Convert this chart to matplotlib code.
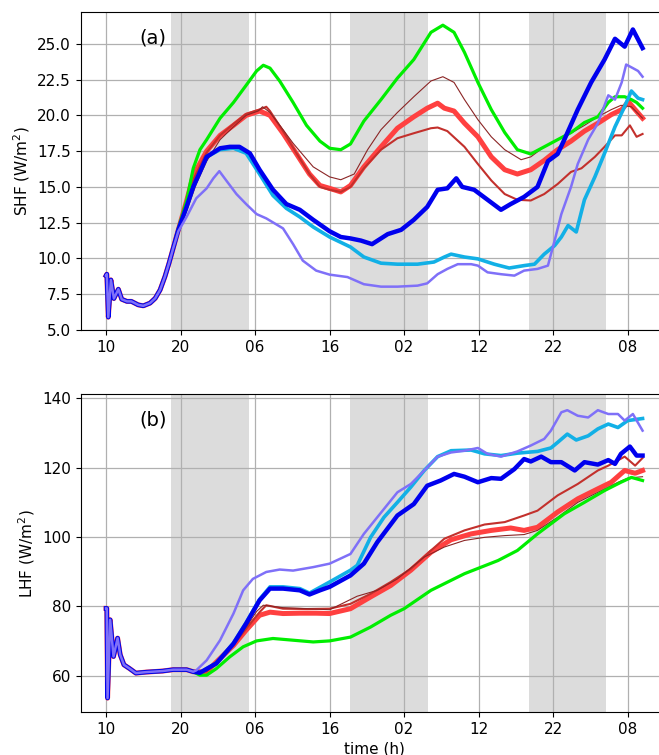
import numpy as np
import matplotlib
matplotlib.use('Agg')
import matplotlib.pyplot as plt

matplotlib.rc('font', **{'size': 11})

# time axis: hours since 10:00 on the first day
tick_pos = [0, 10, 20, 30, 40, 50, 60, 70]
tick_labels = ['10', '20', '06', '16', '02', '12', '22', '08']
nights = [(8.75, 19.2), (32.75, 43.15), (56.7, 67.1)]

# spin-up part, identical for all runs
t_shf0 = [0.0, 0.1, 0.3, 0.65, 1.05, 1.65, 2.1, 2.8, 3.4, 4.3, 5.0, 5.9, 6.6, 7.25, 7.9, 8.45, 9.0]
shf0 = [8.8, 8.9, 5.9, 8.5, 7.2, 7.85, 7.15, 7.0, 7.0, 6.76, 6.69, 6.88, 7.22, 7.8, 8.73, 9.67, 10.7]
t_lhf0 = [0.0, 0.1, 0.2, 0.55, 1.0, 1.55, 1.9, 2.4, 3.1, 4.0, 5.4, 7.6, 9.0, 10.8]
lhf0 = [79.4, 79.4, 53.5, 76.1, 65.5, 70.8, 66.0, 63.1, 62.1, 60.7, 61.0, 61.3, 61.7, 61.7]

# ---- sensible heat flux (W/m2) ----
t_shf_red = [9.7, 10.8, 11.7, 13.5, 15.3, 17.1, 18.8, 20.6, 22, 23.75, 25.5, 27.3, 28.7, 30, 31.5, 32.8,
             34.6, 36.9, 39.1, 41.3, 43.1, 44.5, 45.4, 46.7, 48.1, 49.9, 51.7, 53.5, 55.2, 57, 58.8,
             60.6, 62.4, 64.2, 66, 67.8, 69.2, 70.1, 71, 72]
shf_red = [12.0, 14.0, 15.8, 17.5, 18.6, 19.3, 20.0, 20.3, 20.0, 18.75, 17.35, 15.9, 15.1, 14.9, 14.65, 15.1,
           16.4, 17.8, 19.1, 19.9, 20.5, 20.85, 20.5, 20.3, 19.45, 18.5, 17.1, 16.2, 15.9, 16.2, 16.85,
           17.6, 18.2, 18.9, 19.45, 20.05, 20.4, 20.95, 20.4, 19.8]

t_shf_firebrick = [9.7, 10.8, 11.7, 13.5, 15.3, 17.1, 18.8, 20.6, 21.5, 22, 23.75, 25.5, 27.3, 28.7, 30, 31.5,
                   32.8, 34.6, 36.9, 39.1, 41.3, 43.6, 44.5, 45.8, 48.1, 49.9, 51.7, 53.5, 55.2, 57, 58.8,
                   60.6, 62.4, 63.8, 65.6, 66.9, 68.3, 69.2, 70.3, 71.2, 72]
shf_firebrick = [12.0, 13.8, 15.5, 17.4, 18.6, 19.4, 20.1, 20.4, 20.6, 20.3, 18.9, 17.4, 15.9, 15.0, 14.8, 14.65,
                 15.0, 16.3, 17.6, 18.4, 18.75, 19.1, 19.15, 18.9, 17.8, 16.6, 15.45, 14.5, 14.1, 14.05, 14.5,
                 15.2, 16.05, 16.3, 17.1, 17.8, 18.6, 18.6, 19.3, 18.5, 18.7]

t_shf_brown = [9.7, 10.8, 12.1, 13.5, 15.3, 17.1, 18.8, 20.4, 21.0, 22, 23.75, 25.1, 27.8, 30, 31.5, 33.3,
               35.1, 36.9, 39.1, 41.3, 43.6, 45.2, 46.7, 48.1, 49.9, 51.7, 53.5, 55.7, 57, 58.8, 60.6,
               62.4, 64.2, 66, 67.8, 69.1, 70.5, 72]
shf_brown = [11.9, 13.3, 15.2, 16.8, 18.3, 19.2, 20.0, 20.3, 20.6, 20.2, 19.0, 18.05, 16.4, 15.7, 15.5, 15.9,
             17.6, 19.0, 20.2, 21.3, 22.4, 22.7, 22.3, 21.1, 19.7, 18.5, 17.6, 16.9, 17.1, 17.8, 18.3,
             18.75, 19.3, 19.9, 20.4, 20.7, 20.6, 19.8]

t_shf_green = [9.7, 10.8, 11.7, 12.6, 13.5, 15.3, 17.1, 18.8, 20.2, 21.1, 22, 23.3, 25.1, 26.9, 28.7, 30,
               31.5, 32.8, 34.6, 36.9, 39.1, 41.3, 43.6, 45.2, 46.7, 48.1, 49.9, 51.7, 53.5, 55.2, 57,
               58.8, 60.6, 62.4, 64.2, 66, 67.4, 68.3, 69.6, 70.5, 71.2, 72]
shf_green = [12.1, 14.0, 16.3, 17.6, 18.3, 19.8, 20.9, 22.1, 23.1, 23.5, 23.3, 22.4, 20.9, 19.3, 18.2, 17.7,
             17.6, 18.0, 19.6, 21.1, 22.6, 23.9, 25.8, 26.3, 25.8, 24.4, 22.3, 20.4, 18.8, 17.6, 17.3,
             17.8, 18.3, 18.8, 19.5, 19.9, 20.9, 21.3, 21.3, 21.1, 20.9, 20.5]

t_shf_purple = [9.7, 10.8, 12.1, 13.5, 14.4, 15.2, 16.2, 17.5, 18.8, 20.2, 21.5, 23.75, 25.1, 26.4, 28.2, 30,
                32.4, 34.6, 36.9, 39.1, 41.8, 43.1, 44.5, 45.8, 47.2, 49.0, 49.9, 51.2, 53.0, 54.8, 56.1,
                57.9, 59.3, 60.2, 61.1, 62.4, 63.3, 64.7, 66.0, 67.4, 68.3, 69.2, 69.8, 70.7, 71.4, 72]
shf_purple = [11.9, 12.9, 14.2, 14.9, 15.6, 16.1, 15.4, 14.5, 13.8, 13.1, 12.8, 12.1, 11.0, 9.85, 9.15, 8.87,
              8.7, 8.2, 8.03, 8.03, 8.1, 8.26, 8.9, 9.27, 9.6, 9.6, 9.5, 9.03, 8.9, 8.8, 9.15,
              9.27, 9.5, 11.25, 13.1, 15.0, 16.6, 18.3, 19.45, 21.4, 21.1, 22.3, 23.55, 23.3, 23.1, 22.7]

t_shf_sky = [9.7, 10.8, 11.7, 13.5, 15.3, 17.1, 18.8, 20.6, 22.4, 24.2, 26, 27.8, 30, 32.8, 34.6, 36.9,
             39.1, 41.8, 44.0, 45.4, 46.3, 48.1, 49.9, 52.1, 54.1, 56.1, 57.5, 58.8, 60.2, 61.1, 62.0,
             63.1, 64.2, 65.6, 66.9, 68.3, 69.4, 70.5, 71.4, 72]
shf_sky = [12.0, 13.6, 15.0, 17.1, 17.6, 17.7, 17.35, 15.9, 14.4, 13.5, 12.9, 12.2, 11.5, 10.8, 10.1, 9.67,
           9.6, 9.6, 9.75, 10.1, 10.3, 10.1, 9.97, 9.6, 9.33, 9.5, 9.6, 10.3, 10.9, 11.5, 12.3,
           11.85, 14.1, 15.7, 17.35, 19.2, 20.4, 21.7, 21.2, 21.1]

t_shf_blue = [9.7, 10.8, 11.7, 13.5, 15.3, 16.6, 17.9, 19.3, 20.6, 22.4, 24.2, 26, 27.8, 30, 31.5, 32.8,
              34.2, 35.7, 37.8, 39.6, 41.3, 43.1, 44.5, 45.8, 47.0, 47.8, 49.4, 51.2, 53.0, 54.3, 56.1,
              57.9, 59.3, 60.6, 61.5, 63.3, 65.1, 66.9, 68.3, 69.6, 70.7, 72]
shf_blue = [12.0, 13.6, 15.0, 17.1, 17.7, 17.8, 17.8, 17.35, 16.2, 14.8, 13.8, 13.4, 12.7, 11.9, 11.5, 11.4,
            11.25, 11.0, 11.7, 12.0, 12.7, 13.6, 14.8, 14.9, 15.6, 15.0, 14.8, 14.1, 13.4, 13.8, 14.3,
            15.0, 16.8, 17.3, 18.3, 20.4, 22.3, 23.9, 25.35, 24.8, 26.0, 24.7]

# ---- latent heat flux (W/m2) ----
t_lhf_red = [11.7, 13.5, 14.8, 17.1, 18.8, 20.6, 22, 23.75, 26, 28.2, 30, 32.8, 35.5, 38.2, 40.9, 43.6,
             46.3, 49.0, 51.7, 54.3, 56.1, 57.9, 60.6, 63.3, 66.0, 67.8, 69.6, 71.0, 72]
lhf_red = [61.1, 61.1, 63.9, 68.7, 73.1, 77.4, 78.3, 77.9, 78.0, 78.0, 77.9, 79.3, 82.7, 86.0, 90.4, 95.6,
           99.2, 100.9, 101.9, 102.6, 101.9, 102.8, 107.2, 111.0, 113.9, 115.8, 119.2, 118.4, 119.2]

t_lhf_firebrick = [11.7, 13.5, 14.8, 17.1, 18.8, 20.6, 21.5, 23.75, 27, 30, 32.8, 35.5, 38.2, 40.9, 43.6, 45.4,
                   48.1, 50.8, 53.5, 56.1, 57.9, 60.6, 63.3, 66.0, 67.4, 69.6, 71.0, 72]
lhf_firebrick = [61.1, 61.2, 63.9, 68.9, 73.5, 78.3, 80.3, 79.3, 79.2, 79.3, 80.7, 83.6, 87.0, 90.8, 96.1, 99.5,
                 101.9, 103.6, 104.3, 106.2, 107.6, 112.0, 115.3, 119.2, 120.6, 123.2, 120.6, 122.8]

t_lhf_brown = [11.7, 13.5, 14.8, 17.1, 18.8, 20.2, 21.1, 23.75, 27, 30, 33.7, 36.4, 39.1, 42.7, 45.4, 48.1,
               50.8, 53.5, 56.1, 57.9, 60.6, 63.3, 66.0, 68.7, 70.0, 72]
lhf_brown = [61.1, 61.3, 64.0, 69.0, 74.0, 78.5, 80.3, 79.6, 79.3, 79.0, 82.9, 84.6, 87.9, 94.2, 97.1, 99.0,
             99.9, 100.4, 100.7, 101.9, 105.7, 110.0, 112.9, 115.8, 117.0, 117.4]

t_lhf_green = [11.7, 12.6, 13.5, 14.8, 16.6, 18.4, 20.2, 22.4, 25.1, 27.8, 30, 32.8, 35.5, 38.2, 40, 43.6,
               48.1, 52.6, 55.2, 57.9, 61.5, 64.2, 66.9, 69.1, 70.5, 72]
lhf_green = [61.1, 60.1, 60.1, 62.0, 65.4, 68.3, 70.0, 70.7, 70.2, 69.7, 70.0, 71.1, 74.0, 77.4, 79.3, 84.6,
             89.4, 93.2, 96.1, 100.9, 106.7, 110.0, 113.4, 115.8, 117.2, 116.3]

t_lhf_purple = [11.7, 12.1, 13.5, 15.3, 17.1, 18.4, 19.7, 21.5, 23.3, 25.1, 27.8, 30, 32.8, 34.6, 36.4, 39.1,
                40.9, 42.7, 44.5, 46.3, 48.1, 49.9, 51.2, 53.0, 55.2, 57.0, 58.8, 59.7, 61.1, 61.9, 63.3,
                64.7, 66.0, 67.4, 68.7, 69.6, 70.7, 72]
lhf_purple = [61.1, 61.5, 64.4, 70.2, 77.9, 84.6, 87.9, 89.9, 90.6, 90.3, 91.3, 92.3, 95.1, 100.9, 105.7, 112.9,
              115.3, 119.2, 123.2, 124.4, 124.9, 125.7, 124.0, 123.2, 124.7, 126.4, 128.3, 130.7, 136.0, 136.6, 135.0,
              134.5, 136.6, 135.5, 135.5, 133.6, 135.5, 130.7]

t_lhf_sky = [11.7, 12.6, 14.8, 17.1, 18.8, 20.6, 22, 23.75, 26, 27.3, 30, 32.8, 33.7, 35.5, 37.3, 39.1,
             40.9, 42.7, 44.5, 46.3, 49.0, 50.8, 53.0, 55.2, 57.9, 59.7, 60.6, 61.9, 63.1, 64.7, 66.0,
             67.4, 68.7, 70.0, 72]
lhf_sky = [61.1, 60.9, 63.6, 69.4, 75.3, 82.0, 85.6, 85.6, 85.1, 83.8, 87.0, 90.4, 91.8, 99.9, 105.7, 110.0,
           114.4, 119.2, 123.2, 124.9, 125.1, 124.0, 123.5, 124.2, 124.7, 125.7, 127.3, 129.7, 128.0, 129.2, 131.2,
           132.6, 131.6, 133.6, 134.2]

t_lhf_blue = [11.7, 12.6, 14.8, 17.1, 18.8, 20.6, 22, 23.75, 26, 27.3, 28.7, 30, 32.8, 34.6, 36.4, 39.1,
              41.3, 43.1, 44.9, 46.7, 48.1, 49.9, 51.7, 53.0, 54.8, 56.1, 57.0, 58.4, 59.7, 61.1, 62.9,
              64.2, 66.0, 67.4, 68.3, 69.1, 70.3, 71.2, 72]
lhf_blue = [61.1, 60.8, 63.5, 69.2, 75.0, 81.7, 85.1, 85.1, 84.6, 83.4, 84.6, 85.6, 88.9, 92.3, 98.5, 106.2,
            109.5, 114.8, 116.3, 118.2, 117.4, 115.8, 117.0, 116.8, 119.6, 122.5, 121.8, 123.2, 121.6, 121.6, 119.2,
            121.6, 120.9, 122.2, 121.1, 124.0, 126.1, 123.5, 123.5]

# (color, linewidth) per run, in drawing order
styles = {
    'red': ('#ff4040', 3.6),
    'firebrick': ('#c3302c', 1.5),
    'brown': ('#8b2525', 0.8),
    'green': ('#00ee00', 2.3),
    'sky': ('#12b0e6', 2.6),
    'blue': ('#0000ee', 3.2),
    'purple': ('#7f70f8', 1.8),
}

shf_runs = {
    'red': (t_shf_red, shf_red), 'firebrick': (t_shf_firebrick, shf_firebrick),
    'brown': (t_shf_brown, shf_brown), 'green': (t_shf_green, shf_green),
    'purple': (t_shf_purple, shf_purple), 'sky': (t_shf_sky, shf_sky),
    'blue': (t_shf_blue, shf_blue),
}
lhf_runs = {
    'red': (t_lhf_red, lhf_red), 'firebrick': (t_lhf_firebrick, lhf_firebrick),
    'brown': (t_lhf_brown, lhf_brown), 'green': (t_lhf_green, lhf_green),
    'purple': (t_lhf_purple, lhf_purple), 'sky': (t_lhf_sky, lhf_sky),
    'blue': (t_lhf_blue, lhf_blue),
}

fig = plt.figure(figsize=(6.59, 7.55), dpi=100)
ax1 = fig.add_axes([0.1225, 0.5629, 0.891, 0.4208])
ax2 = fig.add_axes([0.1225, 0.0566, 0.891, 0.4212])


def draw(ax, t0, v0, runs, ylim, ylabel, tag):
    for a, b in nights:
        ax.axvspan(a, b, color='#dcdcdc', lw=0, zorder=0)
    for name in styles:
        t, v = runs[name]
        c, lw = styles[name]
        ax.plot(np.concatenate([t0, t]), np.concatenate([v0, v]), color=c, lw=lw)
    ax.set_xlim(-3.4, 75.4)
    ax.set_ylim(*ylim)
    ax.set_xticks(tick_pos)
    ax.set_xticklabels(tick_labels)
    ax.set_ylabel(ylabel)
    ax.grid(True, color='#b0b0b0', lw=0.9)
    ax.text(0.123, 0.92, tag, transform=ax.transAxes, fontsize=14, ha='center', va='center')


draw(ax1, t_shf0, shf0, shf_runs, (5.0, 27.2), 'SHF (W/m$^2$)', '(a)')
draw(ax2, t_lhf0, lhf0, lhf_runs, (49.4, 141.2), 'LHF (W/m$^2$)', '(b)')
ax1.set_yticks(np.arange(5.0, 25.1, 2.5))
ax2.set_yticks([60, 80, 100, 120, 140])
ax2.set_xlabel('time (h)', labelpad=3)

plt.savefig('out.png', dpi=100)
